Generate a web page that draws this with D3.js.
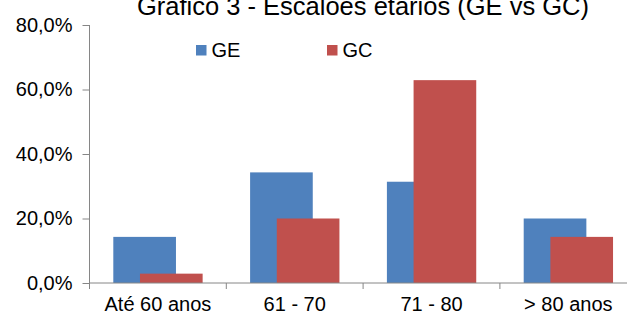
<!DOCTYPE html>
<html>
<head>
<meta charset="utf-8">
<script src="https://cdn.jsdelivr.net/npm/d3@7"></script>
<style>
  body { margin: 0; background: #fff; overflow: hidden; }
  text { font-family: "Liberation Sans", Arial, sans-serif; fill: #000; }
</style>
</head>
<body>
<div id="chart"></div>
<script>
// data
const categories = ['Até 60 anos', '61 - 70', '71 - 80', '> 80 anos'];
const seriesNames = ['GE', 'GC'];
const geValues = [14.3, 34.3, 31.4, 20.0];
const gcValues = [2.9, 20.0, 62.9, 14.3];
const yTicks = [0, 20, 40, 60, 80];
const colors = ['#4F81BD', '#C0504D'];

const width = 627;
const height = 316;

// plot area (runs past the right edge, like the original)
const plotLeft = 89.5, plotRight = 636.7, plotTop = 25, plotBottom = 283;

const svg = d3.select('#chart')
	.append('svg')
	.attr('width', width)
	.attr('height', height)
	.style('display', 'block');

const x = d3.scaleBand()
	.domain(categories)
	.range([plotLeft, plotRight])
	.padding(0);

const y = d3.scaleLinear()
	.domain([0, 80])
	.range([plotBottom, plotTop]);

// bar geometry inside a category: gap, bar width, overlapped offset
const bw = x.bandwidth();
const gap = bw * 0.174;
const barW = bw * 0.458;
const shift = bw * 0.195;

const data = categories.map((c, i) => ({cat: c, vals: [geValues[i], gcValues[i]]}));

// bars
seriesNames.forEach((s, si) => {
	svg.append('g')
		.selectAll('rect')
		.data(data)
		.enter()
		.append('rect')
		.attr('x', d => x(d.cat) + gap + si * shift)
		.attr('y', d => y(d.vals[si]))
		.attr('width', barW)
		.attr('height', d => y(0) - y(d.vals[si]))
		.attr('fill', colors[si]);
});

// y axis
const yAxis = d3.axisLeft(y)
	.tickValues(yTicks)
	.tickSize(7)
	.tickPadding(10)
	.tickFormat(d => d3.format('.1f')(d).replace('.', ',') + '%');

const gy = svg.append('g')
	.attr('transform', `translate(${plotLeft},0)`)
	.call(yAxis);
gy.select('.domain').remove();
gy.append('line')
	.attr('x1', 0).attr('x2', 0)
	.attr('y1', y(80)).attr('y2', y(0))
	.attr('stroke', '#868686');
gy.selectAll('.tick line').attr('stroke', '#868686');
gy.selectAll('.tick text')
	.style('font-size', '20px')
	.attr('fill', '#000');

// x axis
const xAxis = d3.axisBottom(x)
	.tickSize(0)
	.tickPadding(14)
	.tickFormat(d => d);

const gx = svg.append('g')
	.attr('transform', `translate(0,${plotBottom})`)
	.call(xAxis);
gx.select('.domain').remove();
gx.append('line')
	.attr('x1', plotLeft).attr('x2', plotRight)
	.attr('stroke', '#868686');
// category separators (tick marks between groups)
gx.selectAll('.sep')
	.data(categories)
	.enter()
	.append('line')
	.attr('x1', d => x(d)).attr('x2', d => x(d))
	.attr('y1', 0).attr('y2', 6)
	.attr('stroke', '#868686');
gx.selectAll('.tick text')
	.style('font-size', '20px')
	.attr('fill', '#000');

// title (cut off at the top, as in the reference)
svg.append('text')
	.attr('x', 363)
	.attr('y', 15)
	.attr('text-anchor', 'middle')
	.style('font-size', '25.5px')
	.text('Gráfico 3 - Escalões etários (GE vs GC)');

// legend
const legendX = [196, 327];
const legend = svg.append('g');
seriesNames.forEach((s, i) => {
	legend.append('rect')
		.attr('x', legendX[i])
		.attr('y', 45)
		.attr('width', 10.5)
		.attr('height', 10.5)
		.attr('fill', colors[i]);
	legend.append('text')
		.attr('x', legendX[i] + 15.5)
		.attr('y', 56.5)
		.style('font-size', '20px')
		.text(s);
});
</script>
</body>
</html>
